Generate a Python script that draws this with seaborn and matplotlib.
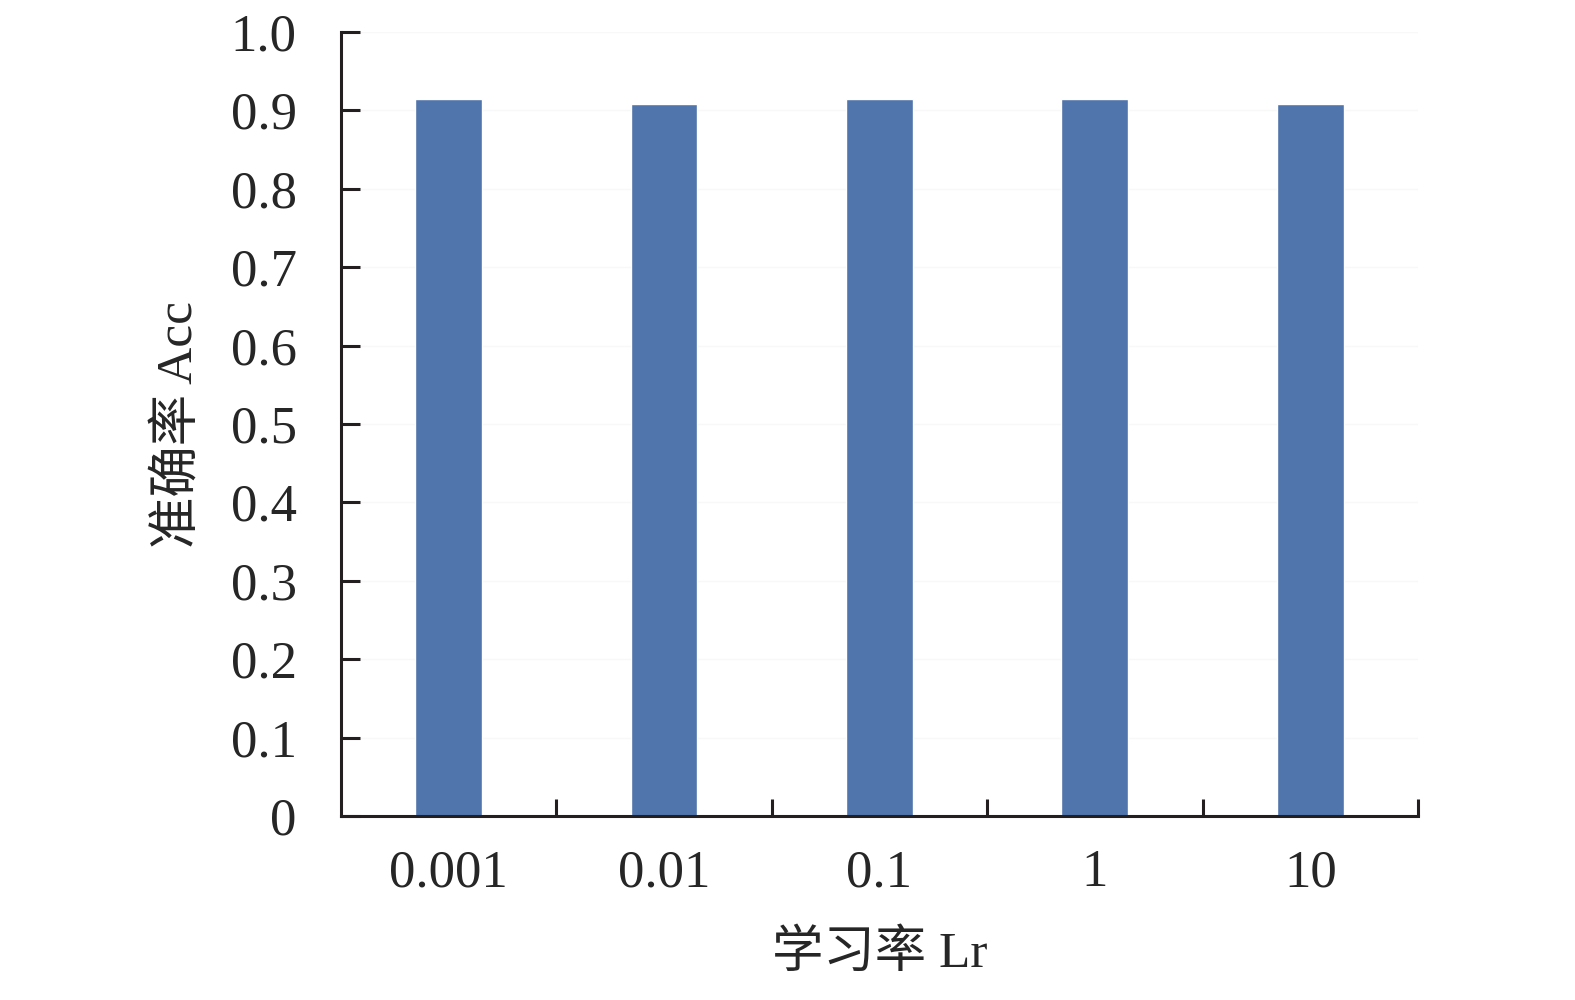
import matplotlib
matplotlib.use('Agg')
from matplotlib import pyplot as plt
import pandas as pd
import seaborn as sns

# data
lr_labels = ['0.001', '0.01', '0.1', '1', '10']
acc = [0.915, 0.908, 0.915, 0.915, 0.908]

df = pd.DataFrame({'Lr': lr_labels, 'Acc': acc})

sns.set_style('white')
plt.rcParams['font.family'] = ['Liberation Serif', 'Noto Sans CJK SC']
plt.rcParams['axes.unicode_minus'] = False

fig = plt.figure(figsize=(15.75, 10), dpi=100)
ax = fig.add_axes([0.2165, 0.184, 0.6838, 0.784])
sns.barplot(data=df, x='Lr', y='Acc', color='#5074ac', width=0.31,
            saturation=1, ax=ax, zorder=2)

ax.set_ylim(0, 1.0)
ax.set_xlim(-0.5, 4.5)
ax.set_yticks([i / 10 for i in range(11)])
ax.set_yticklabels(['0'] + ['%.1f' % (i / 10) for i in range(1, 11)])
ax.grid(axis='y', color='#f8f8f8', linewidth=1, zorder=0)

for s in ['top', 'right']:
    ax.spines[s].set_visible(False)
for s in ['left', 'bottom']:
    ax.spines[s].set_color('#231f20')
    ax.spines[s].set_linewidth(2.2)

ax.tick_params(axis='y', direction='in', length=14, width=2.2, color='#231f20',
               labelsize=38, pad=32, left=True)
ax.tick_params(axis='x', which='major', length=0, labelsize=38, pad=24)
# x ticks sit on the category boundaries
ax.set_xticks([i - 0.5 for i in range(1, 6)], minor=True)
ax.tick_params(axis='x', which='minor', direction='in', length=12, width=2.2,
               color='#231f20', bottom=True)

ax.set_xlabel('学习率 Lr', fontsize=37, labelpad=24)
ax.set_ylabel('准确率 Acc', fontsize=37, labelpad=20)

plt.savefig('out.png', dpi=100)
